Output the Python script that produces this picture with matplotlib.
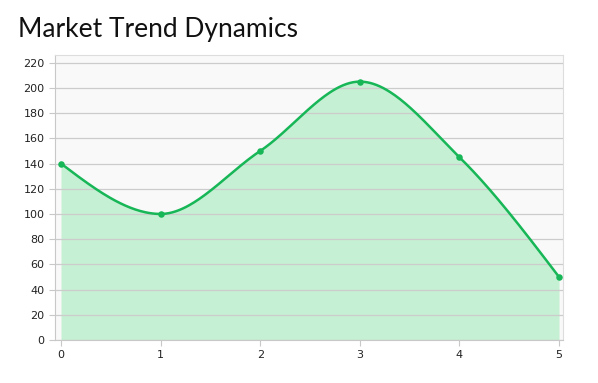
import numpy as np
import matplotlib
matplotlib.use("Agg")
import matplotlib.pyplot as plt

x_vals = [0, 1, 2, 3, 4, 5]
y_vals = [140, 100, 150, 205, 145, 50]
y_ticks = list(range(0, 221, 20))

line_color = "#17b657"
fill_color = "#c6f0d3"


def monotone_slopes(x, y):
    # same slopes as d3.curveMonotoneX
    x = np.asarray(x, float)
    y = np.asarray(y, float)
    n = len(x)
    h = np.diff(x)
    s = np.diff(y) / h
    t = np.zeros(n)
    for i in range(1, n - 1):
        p = (s[i - 1] * h[i] + s[i] * h[i - 1]) / (h[i - 1] + h[i])
        t[i] = (np.sign(s[i - 1]) + np.sign(s[i])) * min(abs(s[i - 1]), abs(s[i]), 0.5 * abs(p))
    t[0] = (3 * s[0] - t[1]) / 2
    t[-1] = (3 * s[-1] - t[-2]) / 2
    return t


def smooth(x, y, steps=60):
    t = monotone_slopes(x, y)
    xs, ys = [], []
    for i in range(len(x) - 1):
        h = x[i + 1] - x[i]
        u = np.linspace(0, 1, steps)
        h00 = 2 * u**3 - 3 * u**2 + 1
        h10 = u**3 - 2 * u**2 + u
        h01 = -2 * u**3 + 3 * u**2
        h11 = u**3 - u**2
        xs.extend(x[i] + u * h)
        ys.extend(h00 * y[i] + h10 * h * t[i] + h01 * y[i + 1] + h11 * h * t[i + 1])
    return np.array(xs), np.array(ys)


sx, sy = smooth(x_vals, y_vals)

fig = plt.figure(figsize=(5.98, 3.83), dpi=100)
ax = fig.add_axes([0.092, 0.1123, 0.8495, 0.7437])
ax.set_facecolor("#f9f9f9")

ax.fill_between(sx, sy, 0, color=fill_color, linewidth=0, zorder=1)
ax.plot(sx, sy, color=line_color, linewidth=1.8, zorder=3)
ax.scatter(x_vals, y_vals, s=22, color=line_color, zorder=4, linewidths=0)

ax.set_xlim(-0.06, 5.04)
ax.set_ylim(0, 226)
ax.set_yticks(y_ticks)
ax.set_xticks(x_vals)
ax.grid(axis="y", color="#cccccc", linewidth=0.9, zorder=2)
ax.set_axisbelow(False)

for side in ["top", "right"]:
    ax.spines[side].set_color("#dddddd")
for side in ["left", "bottom"]:
    ax.spines[side].set_color("#c8c8c8")
ax.tick_params(colors="#c8c8c8", labelcolor="#222222", labelsize=8, length=4)
for lbl in ax.get_xticklabels() + ax.get_yticklabels():
    lbl.set_family("DejaVu Sans")

fig.text(0.03, 0.922, "Market Trend Dynamics", fontsize=19, family="Lato",
         fontweight="normal", color="#111111", va="center")

plt.savefig("out.png", dpi=100)
